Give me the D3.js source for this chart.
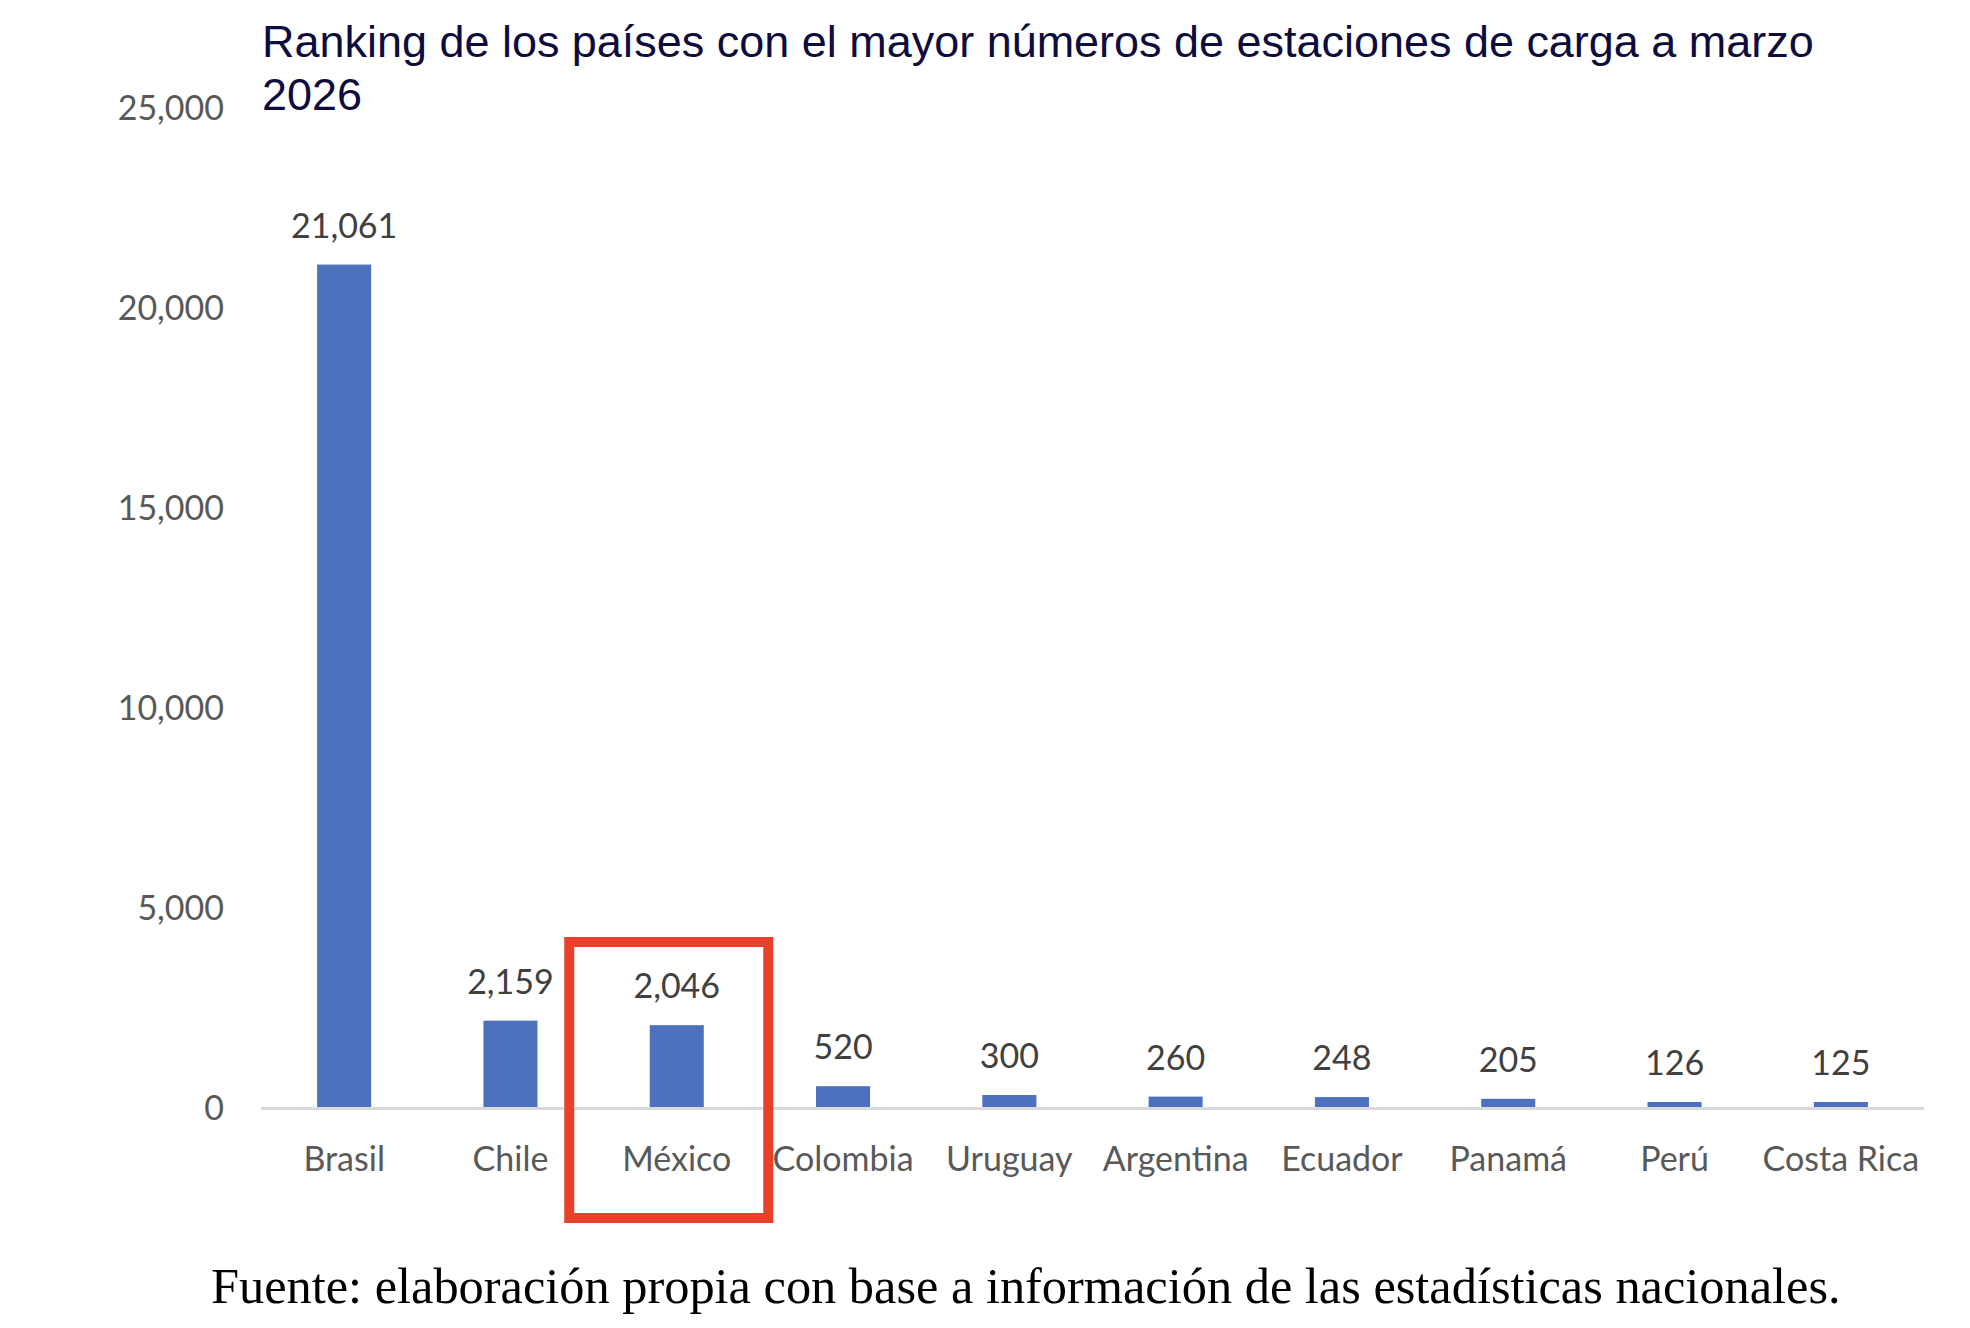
<!DOCTYPE html>
<html lang="es">
<head>
<meta charset="utf-8">
<script src="https://cdn.jsdelivr.net/npm/d3@7"></script>
<style>
    html, body { margin: 0; padding: 0; background: #ffffff; }
    svg { display: block; }
    .chart__title { font-family: "Liberation Sans", Arial, sans-serif; fill: #0e0b3d; }
    .chart__tick text, .chart__category { font-family: Lato, "Open Sans", sans-serif; fill: #595959; }
    .chart__value { font-family: Lato, "Open Sans", sans-serif; fill: #404040; }
    .chart__source { font-family: "Liberation Serif", "DejaVu Serif", serif; fill: #000000; }
</style>
</head>
<body>
<svg id="chart" width="1970" height="1328"></svg>
<script>
const countries = ['Brasil', 'Chile', 'México', 'Colombia', 'Uruguay', 'Argentina', 'Ecuador', 'Panamá', 'Perú', 'Costa Rica'];
const stations = [21061, 2159, 2046, 520, 300, 260, 248, 205, 126, 125];
const yTicks = [0, 5000, 10000, 15000, 20000, 25000];
const highlighted = 'México';

const titleLines = [
    'Ranking de los países con el mayor números de estaciones de carga a marzo',
    '2026'
];
const sourceText = 'Fuente: elaboración propia con base a información de las estadísticas nacionales.';

const params = {
    width: 1970,
    height: 1328,
    plot: { left: 261, right: 1924, top: 107, bottom: 1107 },
    barColor: '#4e71be',
    axisColor: '#d9d9d9',
    boxColor: '#e8402a',
    fontSize: 34
};

const svg = d3.select('#chart');
const fmt = d3.format(',');

const x = d3.scaleBand()
    .domain(countries)
    .range([params.plot.left, params.plot.right])
    .paddingInner(0.675)
    .paddingOuter(0.3375);

const y = d3.scaleLinear()
    .domain([0, 25000])
    .range([params.plot.bottom, params.plot.top]);

// titulo, ajustado al ancho del original
const title = svg.append('g').attr('class', 'chart__title');
titleLines.forEach((line, i) => {
    title.append('text')
        .attr('x', 262)
        .attr('y', 57 + i * 53)
        .style('font-size', '44px')
        .text(line);
});
const firstLine = title.select('text').node();
const fitted = 44 * 1552 / firstLine.getComputedTextLength();
title.selectAll('text').style('font-size', `${fitted}px`);

// eje y (sin linea, solo etiquetas)
const yAxis = svg.append('g')
    .attr('transform', `translate(${params.plot.left - 37},0)`)
    .call(d3.axisLeft(y).tickValues(yTicks).tickFormat(fmt).tickSize(0).tickPadding(0));
yAxis.select('.domain').remove();
yAxis.selectAll('.tick').attr('class', 'tick chart__tick');
yAxis.selectAll('text')
    .attr('fill', null)
    .attr('dy', '0.36em')
    .style('font-size', `${params.fontSize}px`);

// barras
svg.append('g')
    .selectAll('rect')
    .data(countries)
    .join('rect')
    .attr('x', d => x(d))
    .attr('width', x.bandwidth())
    .attr('y', (d, i) => y(stations[i]))
    .attr('height', (d, i) => y(0) - y(stations[i]))
    .attr('fill', params.barColor);

// linea base
svg.append('line')
    .attr('x1', params.plot.left)
    .attr('x2', params.plot.right)
    .attr('y1', y(0) + 1.5)
    .attr('y2', y(0) + 1.5)
    .attr('stroke', params.axisColor)
    .attr('stroke-width', 3);

// etiquetas de valor
svg.append('g')
    .selectAll('text')
    .data(countries)
    .join('text')
    .attr('class', 'chart__value')
    .attr('x', d => x(d) + x.bandwidth() / 2)
    .attr('y', (d, i) => y(stations[i]) - 27)
    .attr('text-anchor', 'middle')
    .style('font-size', `${params.fontSize}px`)
    .text((d, i) => fmt(stations[i]));

// etiquetas de categoria
svg.append('g')
    .selectAll('text')
    .data(countries)
    .join('text')
    .attr('class', 'chart__category')
    .attr('x', d => x(d) + x.bandwidth() / 2)
    .attr('y', y(0) + 64)
    .attr('text-anchor', 'middle')
    .style('font-size', `${params.fontSize}px`)
    .text(d => d);

// recuadro rojo alrededor de Mexico (un poco corrido a la izquierda, como en el original)
const cx = x(highlighted) + x.bandwidth() / 2;
svg.append('rect')
    .attr('x', cx - 107.5)
    .attr('y', y(0) - 165)
    .attr('width', 199)
    .attr('height', 276)
    .attr('fill', 'none')
    .attr('stroke', params.boxColor)
    .attr('stroke-width', 10);

// fuente
const source = svg.append('text')
    .attr('class', 'chart__source')
    .attr('x', 211)
    .attr('y', 1303)
    .style('font-size', '48px')
    .text(sourceText);
const srcFit = 48 * 1630 / source.node().getComputedTextLength();
source.style('font-size', `${srcFit}px`);
</script>
</body>
</html>
